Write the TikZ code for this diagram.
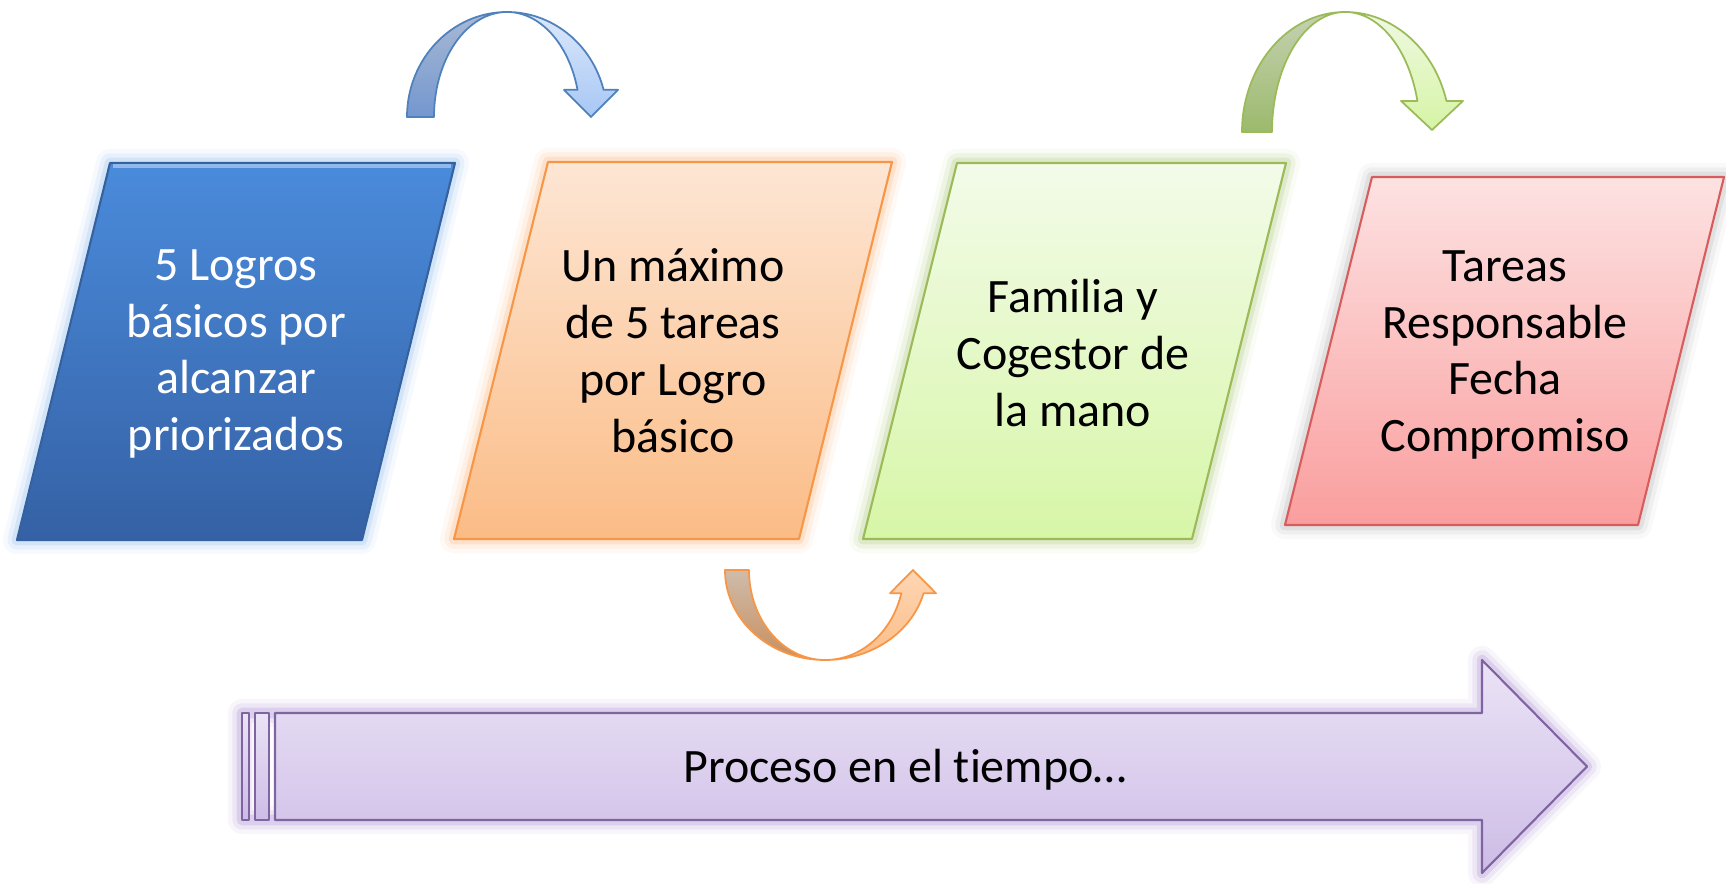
\documentclass[tikz,border=0pt]{standalone}
\usepackage{fontspec}
\setmainfont[Ligatures=NoCommon]{Carlito}
\usetikzlibrary{calc}
\definecolor{blueT}{HTML}{4A8BDB}
\definecolor{blueB}{HTML}{3561A5}
\definecolor{blueedge}{HTML}{35619E}
\definecolor{blueglow}{HTML}{8FBCEE}
\definecolor{orangeT}{HTML}{FDE6D4}
\definecolor{orangeB}{HTML}{FBBC86}
\definecolor{orangeedge}{HTML}{F79646}
\definecolor{greenT}{HTML}{F3FBE9}
\definecolor{greenB}{HTML}{D7F6A7}
\definecolor{greenedge}{HTML}{9BBB59}
\definecolor{redT}{HTML}{FDE2E2}
\definecolor{redB}{HTML}{FA9E9E}
\definecolor{rededge}{HTML}{D95C5C}
\definecolor{purpleT}{HTML}{EBE3F6}
\definecolor{purpleB}{HTML}{CDBCE6}
\definecolor{purpleedge}{HTML}{8064A2}
\definecolor{purpleglow}{HTML}{A78BCF}
\definecolor{arrowblue}{HTML}{4F81BD}
\definecolor{blbackT}{HTML}{A9B9D3}
\definecolor{blbackB}{HTML}{7397CF}
\definecolor{blfrontT}{HTML}{DCE8FA}
\definecolor{blfrontB}{HTML}{A8C7F5}
\definecolor{orbackT}{HTML}{CFBCAB}
\definecolor{orbackB}{HTML}{C88F5E}
\definecolor{orfrontT}{HTML}{FED6B4}
\definecolor{orfrontB}{HTML}{FBBD87}
\definecolor{grbackT}{HTML}{C5D1B2}
\definecolor{grbackB}{HTML}{9CBA6C}
\definecolor{grfrontT}{HTML}{EFF9E2}
\definecolor{grfrontB}{HTML}{D6F4A5}

\begin{document}
\begin{tikzpicture}[x=0.02cm,y=0.02cm,
  txt/.style={align=center,font=\fontsize{27.3}{32.4}\selectfont},
  box/.style={line width=1.2pt,line join=round},
  band/.style={line width=1pt,line join=round}]
\useasboundingbox (0,0) rectangle (1726,883);
% corners of the four boxes
\coordinate (a1) at (110,720);  \coordinate (a2) at (455,720);
\coordinate (a3) at (362,343);  \coordinate (a4) at (17,343);
\coordinate (o1) at (548,721);  \coordinate (o2) at (892,721);
\coordinate (o3) at (799,344);  \coordinate (o4) at (454,344);
\coordinate (g1) at (957,720);  \coordinate (g2) at (1286,720);
\coordinate (g3) at (1192,344); \coordinate (g4) at (863,344);
\coordinate (r1) at (1372,706); \coordinate (r2) at (1724,706);
\coordinate (r3) at (1638,358); \coordinate (r4) at (1285,358);
% glow
\foreach \w/\o in {16/0.08,11/0.14,6/0.25} {
  \draw[line width=\w pt,opacity=\o,line join=round,blueglow] (a1)--(a2)--(a3)--(a4)--cycle;
  \draw[line width=\w pt,opacity=\o,line join=round,orangeedge!70] (o1)--(o2)--(o3)--(o4)--cycle;
  \draw[line width=\w pt,opacity=\o,line join=round,greenedge!80] (g1)--(g2)--(g3)--(g4)--cycle;
  \draw[line width=\w pt,opacity=\o,line join=round,gray!60,yshift=-4] (r1)--(r2)--(r3)--(r4)--cycle;
  \draw[line width=\w pt,opacity=\o,line join=round,purpleglow]
    (275,170)--(1482,170)--(1482,223)--(1587,116.5)--(1482,10)--(1482,63)--(242,63)--(242,170)--cycle;
}
% boxes
\draw[box,draw=blueedge,top color=blueT,bottom color=blueB] (a1)--(a2)--(a3)--(a4)--cycle;
\draw[line width=2pt,blueT!60!white] ($(a1)+(3,-3)$) -- ($(a2)+(-4,-3)$);
\draw[box,draw=orangeedge,top color=orangeT,bottom color=orangeB] (o1)--(o2)--(o3)--(o4)--cycle;
\draw[box,draw=greenedge,top color=greenT,bottom color=greenB] (g1)--(g2)--(g3)--(g4)--cycle;
\draw[box,draw=rededge,top color=redT,bottom color=redB] (r1)--(r2)--(r3)--(r4)--cycle;
% time arrow
\draw[box,draw=purpleedge,top color=purpleT,bottom color=purpleB]
  (275,170)--(1482,170)--(1482,223)--(1587,116.5)--(1482,10)--(1482,63)--(275,63)--cycle;
\foreach \l/\r in {242/249,255/269}
  \draw[box,draw=purpleedge,top color=purpleT,bottom color=purpleB] (\l,63) rectangle (\r,170);
% curved arrows
\draw[band,draw=arrowblue,top color=blbackT,bottom color=blbackB]
  (407,766) arc[start angle=180,end angle=90,x radius=100,y radius=105]
  arc[start angle=90,end angle=180,x radius=73,y radius=105] -- cycle;
\draw[band,draw=arrowblue,top color=blfrontT,bottom color=blfrontB]
  (507,871) arc[start angle=90,end angle=15,x radius=100,y radius=105]
  -- (618,793.2) -- (591,766) -- (564,793.2) -- (577.5,793.2)
  arc[start angle=15,end angle=90,x radius=73,y radius=105] -- cycle;
\draw[band,draw=orangeedge,top color=orbackT,bottom color=orbackB]
  (725,313) arc[start angle=180,end angle=270,x radius=100,y radius=90]
  arc[start angle=270,end angle=180,x radius=76,y radius=90] -- cycle;
\draw[band,draw=orangeedge,top color=orfrontT,bottom color=orfrontB]
  (825,223) arc[start angle=270,end angle=345,x radius=102,y radius=90]
  -- (936,289.7) -- (913,313) -- (890,289.7) -- (901.3,289.7)
  arc[start angle=345,end angle=270,x radius=79,y radius=90] -- cycle;
\draw[band,draw=greenedge,top color=grbackT,bottom color=grbackB]
  (1242,751) arc[start angle=180,end angle=90,x radius=103,y radius=120]
  arc[start angle=90,end angle=180,x radius=73,y radius=120] -- cycle;
\draw[band,draw=greenedge,top color=grfrontT,bottom color=grfrontB]
  (1345,871) arc[start angle=90,end angle=15,x radius=105,y radius=120]
  -- (1463,782.1) -- (1432,753) -- (1401,782.1) -- (1417.4,782.1)
  arc[start angle=15,end angle=90,x radius=75,y radius=120] -- cycle;
% texts
\node[txt,text=white] (logros) at (236,529) {5 Logros\\básicos por\\alcanzar\\priorizados};
\node[txt] (tareas) at (673,532) {Un máximo\\de 5 tareas\\por Logro\\básico};
\node[txt] (familia) at (1073,530) {Familia y\\Cogestor de\\la mano};
\node[txt] (fecha) at (1505,528) {Tareas\\Responsable\\Fecha\\Compromiso};
\node[txt] (proceso) at (905,113) {Proceso en el tiempo…};
\end{tikzpicture}
\end{document}
